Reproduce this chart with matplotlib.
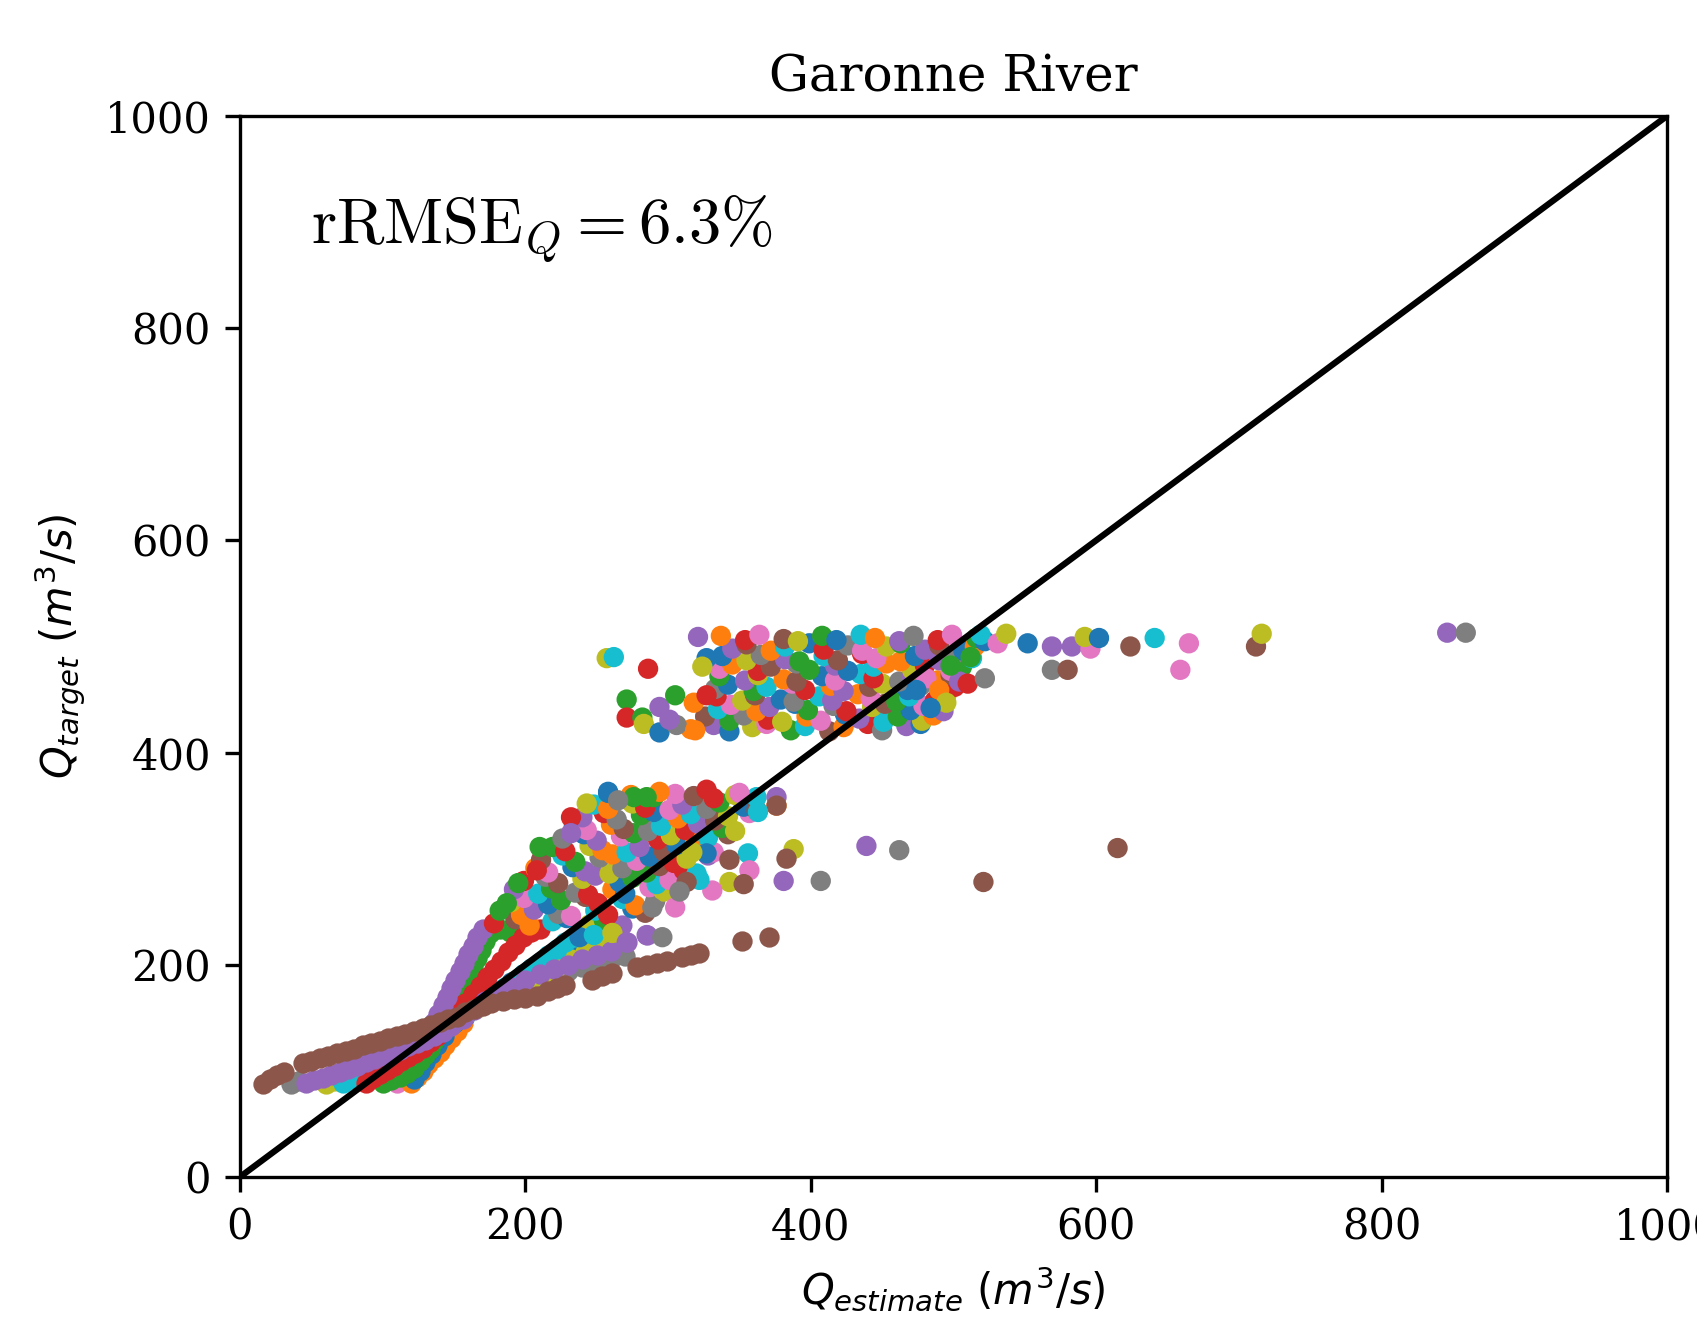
import matplotlib
matplotlib.use("Agg")
import matplotlib.pyplot as plt

plt.rcParams['font.family'] = 'serif'

MS = 15  # marker area

# ---- low-flow streaks (one run per colour), Q_estimate / Q_target in m3/s
pink_est = [110, 114, 118, 122, 126, 130, 134, 138, 142, 146]
pink_tgt = [89, 92, 96, 101, 107, 113, 119, 126, 133, 140]

orange_est = [120, 124, 128, 132, 136, 140, 144, 148, 152, 156]
orange_tgt = [89, 94, 100, 106, 112, 118, 124, 131, 138, 145]

blue_est = [122, 126, 130, 134, 138, 143, 150, 158, 166, 174, 182, 190, 198, 206, 214, 222, 230, 238, 245]
blue_tgt = [92, 100, 108, 116, 124, 133, 145, 152, 160, 168, 176, 184, 191, 198, 205, 212, 218, 224, 229]

gray_est = [36, 41, 200, 210, 220, 230, 240, 250, 260, 270]
gray_tgt = [88, 90, 178, 184, 189, 194, 198, 202, 205, 208]

yellow_est = [60, 66, 72, 78, 84, 90, 96, 102, 108, 114, 120, 126, 132, 138, 144,
              150, 158, 166, 174, 182, 190, 198, 206, 214, 222, 232, 242, 252, 260]
yellow_tgt = [88, 90, 93, 97, 101, 105, 109, 113, 117, 121, 125, 129, 133, 137, 142,
              147, 153, 159, 165, 171, 177, 183, 188, 193, 198, 205, 212, 219, 225]

cyan_est = [72, 78, 84, 90, 96, 102, 108, 114, 120, 126, 132, 138, 144, 150,
            156, 162, 168, 174, 180, 186, 192, 198, 204, 210, 216, 222, 228, 234]
cyan_tgt = [89, 92, 96, 100, 104, 108, 112, 116, 121, 126, 131, 136, 141, 146,
            151, 157, 162, 167, 173, 179, 185, 191, 197, 203, 209, 215, 221, 226]

green_est = [100, 106, 112, 117, 122, 126, 130, 133, 136, 139, 142, 145,
             148, 151, 154, 157, 160, 163, 166, 169, 172, 175, 182, 189]
green_tgt = [89, 91, 94, 98, 103, 109, 115, 121, 128, 135, 142, 150,
             158, 166, 174, 182, 190, 198, 206, 214, 222, 230, 234, 231]

red_est = [88, 93, 98, 103, 108, 113, 118, 123, 128, 133, 138, 143, 148,
           153, 158, 163, 168, 173, 178, 183, 188, 193, 198, 204, 210]
red_tgt = [89, 93, 97, 101, 105, 109, 113, 117, 122, 127, 133, 140, 148,
           156, 164, 172, 180, 188, 196, 204, 212, 219, 226, 231, 234]

purple_est = [46, 52, 58, 64, 70, 76, 82, 88, 94, 100, 106, 112, 118, 124, 130, 136, 142, 148,
              156, 164, 172, 180, 190, 200, 210, 220, 230, 240, 250, 260, 271, 285,
              136, 139, 142, 145, 148, 151, 154, 157, 160, 163, 166, 170]
purple_tgt = [89, 91, 93, 96, 99, 102, 105, 108, 111, 114, 117, 120, 123, 126, 129, 133, 137, 142,
              149, 157, 166, 172, 179, 186, 191, 196, 200, 205, 209, 213, 221, 228,
              146, 154, 162, 170, 178, 186, 194, 202, 210, 218, 226, 234]

brown_est = [16, 21, 26, 31, 44, 50, 56, 62, 68, 74, 80, 86, 92, 98, 104, 110, 116, 122, 128,
             134, 140, 146, 152, 158, 164, 170, 176, 184, 192, 200, 208, 216, 222, 228,
             247, 254, 261, 278, 285, 292, 299, 310, 316, 322, 352, 371]
brown_tgt = [88, 92, 96, 99, 107, 109, 112, 114, 117, 119, 121, 124, 126, 128, 131, 133, 135, 138, 140,
             143, 146, 149, 151, 155, 158, 161, 164, 166, 168, 169, 171, 175, 178, 181,
             186, 189, 192, 198, 200, 202, 204, 207, 209, 211, 222, 226]

# ---- middle cloud (~230-365 m3/s), colour = tab10 index
mid_est = [178, 193, 203, 219, 229, 245, 255, 268,
           182, 197, 206, 223, 232, 249, 258, 275, 284,
           190, 199, 216, 225, 242, 251, 268, 277, 291,
           192, 209, 218, 235, 244, 261, 270, 287, 297,
           199, 214, 223, 240, 249, 266, 275, 292, 301, 315,
           207, 216, 233, 242, 259, 268, 285, 294, 311, 320,
           211, 226, 235, 252, 261, 278, 287, 304, 313, 328,
           219, 228, 245, 254, 271, 280, 297, 306, 323, 332,
           226, 241, 250, 267, 276, 293, 302, 319, 328, 342,
           234, 243, 260, 269, 286, 295, 312, 321, 338, 347,
           240, 255, 264, 281, 290, 307, 316, 333, 342, 357,
           248, 258, 275, 284, 301, 310, 327, 336, 353, 362, 376,
           258, 274, 290, 305, 318, 332, 347, 362,
           356, 357, 343, 353, 331, 305, 289, 322, 313, 308, 327, 317, 376, 376, 363, 350, 343,
           238, 248, 261, 271, 285, 296,
           258, 243, 232, 232, 210, 208, 195, 187,
           294, 276, 285, 327, 265]
mid_tgt = [239, 243, 237, 241, 244, 238, 242, 237,
           251, 247, 252, 248, 246, 251, 247, 253, 249,
           259, 263, 257, 261, 264, 258, 262, 256, 260,
           271, 267, 272, 268, 266, 271, 267, 273, 269,
           279, 283, 277, 281, 284, 278, 282, 276, 280, 283,
           291, 287, 292, 288, 286, 291, 287, 293, 289, 286,
           299, 303, 297, 301, 304, 298, 302, 296, 300, 303,
           311, 307, 312, 308, 306, 311, 307, 313, 309, 306,
           319, 323, 317, 321, 324, 318, 322, 316, 320, 323,
           331, 327, 332, 328, 326, 331, 327, 333, 329, 326,
           339, 343, 337, 341, 344, 338, 342, 336, 340, 343,
           351, 347, 352, 348, 346, 351, 347, 353, 349, 346, 350,
           362, 360, 358, 361, 359, 357, 360, 358,
           305, 289, 278, 276, 270, 254, 254, 280, 278, 269, 305, 306, 358, 350, 344, 362, 299,
           226, 228, 230, 221, 228, 226,
           363, 352, 339, 324, 311, 289, 277, 258,
           363, 358, 358, 365, 355]
mid_col = ("35190824" "214769305" "860253917" "492731068" "3758402961" "1604872539"
           "5927160384" "2381945076" "7046238195" "0615793428" "4372019586"
           "91836472051" "01265389" "96856679570845965" "098447" "08342322" "12237")

# ---- upper cloud (~420-515 m3/s)
up_est = [316, 332, 343, 359, 369, 386, 396, 413, 423, 440, 450, 467, 477,
          326, 343, 353, 370, 380, 397, 407, 424, 434, 451, 461, 478, 486,
          335, 344, 362, 371, 389, 398, 416, 425, 443, 452, 470, 479, 493,
          334, 352, 361, 379, 388, 406, 415, 433, 442, 460, 469, 487, 495,
          333, 342, 360, 369, 387, 396, 414, 423, 441, 450, 468, 477, 495, 501,
          336, 354, 363, 381, 390, 408, 417, 435, 444, 462, 471, 489, 498,
          336, 345, 363, 372, 390, 399, 417, 426, 444, 453, 471, 480, 498, 506,
          338, 355, 365, 382, 392, 409, 419, 436, 446, 463, 473, 490, 500, 513,
          345, 355, 372, 382, 399, 409, 426, 436, 453, 463, 480, 490, 507, 515,
          337, 354, 364, 381, 391, 408, 418, 435, 445, 462, 472, 489, 499, 516, 522,
          257, 262, 286, 271, 271, 282, 283, 294, 294, 305, 306, 301, 321, 327, 324, 318, 327, 319,
          481, 504, 510, 490, 474, 495, 484, 512, 498, 519, 531]
up_tgt = [422, 426, 420, 424, 427, 421, 425, 420, 424, 427, 421, 425, 427,
          434, 430, 435, 431, 429, 434, 430, 436, 432, 429, 434, 430, 435,
          441, 445, 439, 443, 446, 440, 444, 439, 443, 446, 440, 444, 439,
          453, 449, 454, 450, 448, 453, 449, 455, 451, 448, 453, 449, 454,
          460, 464, 458, 462, 465, 459, 463, 458, 462, 465, 459, 463, 458, 462,
          472, 468, 473, 469, 467, 472, 468, 474, 470, 467, 472, 468, 473,
          479, 483, 477, 481, 484, 478, 482, 477, 481, 484, 478, 482, 477, 481,
          491, 487, 492, 488, 486, 491, 487, 493, 489, 486, 491, 487, 492, 489,
          498, 502, 496, 500, 503, 497, 501, 496, 500, 503, 497, 501, 496, 500,
          510, 506, 511, 507, 505, 510, 506, 511, 508, 505, 510, 506, 511, 508, 505,
          489, 490, 479, 450, 433, 433, 427, 443, 419, 454, 426, 431, 509, 489, 481, 447, 454, 421,
          470, 467, 465, 459, 459, 447, 442, 490, 482, 511, 503]
up_col = ("1408629513740" "5273816049281" "9614027385064" "3850794162938"
          "70296314580723" "2481506937415" "61357240918362" "08742953610479"
          "45190376824501" "136582091473620" "893232840274408131" "64310802296")

# ---- scattered outliers
out_est = [537, 552, 569, 583, 596, 592, 602, 624, 641, 665, 712, 716, 846, 859, 522, 569, 580, 659,
           439, 462, 615, 521, 381, 407, 388, 383]
out_tgt = [512, 503, 500, 500, 498, 509, 508, 500, 508, 503, 500, 512, 513, 513, 470, 478, 478, 478,
           312, 308, 310, 278, 279, 279, 309, 300]
out_col = "804468059658477756" "47554785"

rrmse = 6.3

fig = plt.figure(figsize=(1697 / 300, 1323 / 300), dpi=300)
ax = fig.add_axes([0.1414, 0.1104, 0.8409, 0.8019])

streaks = [(pink_est, pink_tgt, 'C6'), (orange_est, orange_tgt, 'C1'),
           (blue_est, blue_tgt, 'C0'), (gray_est, gray_tgt, 'C7'),
           (yellow_est, yellow_tgt, 'C8'), (cyan_est, cyan_tgt, 'C9'),
           (green_est, green_tgt, 'C2'), (red_est, red_tgt, 'C3'),
           (purple_est, purple_tgt, 'C4'), (brown_est, brown_tgt, 'C5')]
for xs, ys, col in streaks:
    ax.scatter(xs, ys, s=MS, color=col)

for xs, ys, cols in [(mid_est, mid_tgt, mid_col), (up_est, up_tgt, up_col),
                     (out_est, out_tgt, out_col)]:
    ax.scatter(xs, ys, s=MS, c=['C' + k for k in cols])

ax.plot([0, 1000], [0, 1000], 'k-')

ax.text(50, 880, r'$\mathrm{rRMSE}_Q = %.1f\%%$' % rrmse, fontsize=15.5, math_fontfamily='cm')

ax.set_xlim(0, 1000)
ax.set_ylim(0, 1000)
ax.set_xticks(range(0, 1001, 200))
ax.set_yticks(range(0, 1001, 200))
ax.set_xlabel(r'$Q_{estimate}\ (m^3/s)$')
ax.set_ylabel(r'$Q_{target}\ (m^3/s)$')
ax.set_title('Garonne River')

fig.savefig('out.png', dpi=300)
